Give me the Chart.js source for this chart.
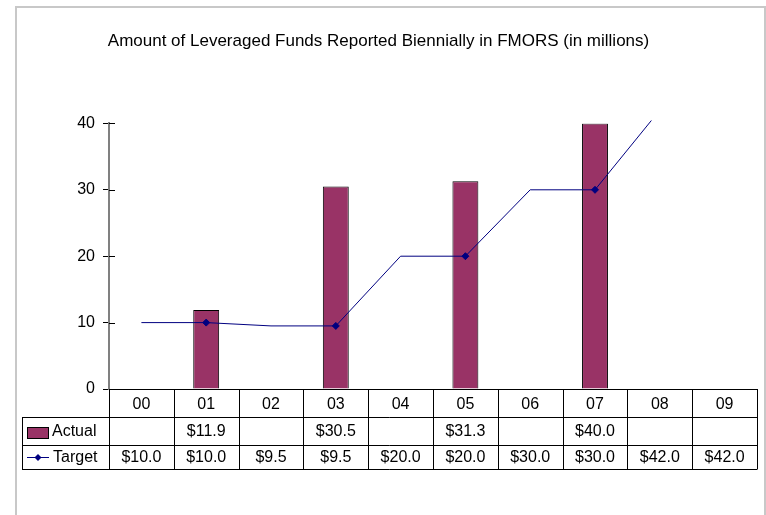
<!DOCTYPE html>
<html>
<head>
<meta charset="utf-8">
<script src="https://cdn.jsdelivr.net/npm/chart.js@4/dist/chart.umd.min.js"></script>
<style>
  body { margin: 0; background: #fff; }
  canvas { display: block; }
</style>
</head>
<body>
<canvas id="fundsChart" width="766" height="515"></canvas>
<script>
const years = ["00", "01", "02", "03", "04", "05", "06", "07", "08", "09"];
const actual = [null, 11.9, null, 30.5, null, 31.3, null, 40.0, null, null];
const target = [10.0, 10.0, 9.5, 9.5, 20.0, 20.0, 30.0, 30.0, 42.0, 42.0];
const yTicks = [0, 10, 20, 30, 40];

const FONT = "'Liberation Sans', Arial, sans-serif";
const PLUM = "#993366";
const NAVY = "#000080";

function money(v) {
  return v == null ? "" : "$" + v.toFixed(1);
}

// draws the frame, the inner tick halves and the data table under the plot
const tablePlugin = {
  id: "dataTable",
  beforeDraw(chart) {
    const ctx = chart.ctx;
    ctx.save();
    ctx.strokeStyle = "#c8c8c8";
    ctx.lineWidth = 2;
    ctx.strokeRect(16, 7, 749, 520);
    ctx.restore();
  },
  afterDraw(chart) {
    const ctx = chart.ctx;
    const x = chart.scales.x;
    const y = chart.scales.y;
    const area = chart.chartArea;
    const colW = (area.right - area.left) / years.length;
    const top = area.bottom;
    const row1 = top + 28, row2 = row1 + 28, row3 = row2 + 24;
    const legLeft = 22;

    ctx.save();
    // tick marks crossing into the plot
    ctx.strokeStyle = "#000";
    ctx.lineWidth = 1;
    yTicks.forEach(function (t) {
      const py = Math.round(y.getPixelForValue(t)) + 0.5;
      ctx.beginPath();
      ctx.moveTo(area.left, py);
      ctx.lineTo(area.left + 6, py);
      ctx.stroke();
    });

    // grid of the table
    ctx.beginPath();
    for (let i = 0; i <= years.length; i++) {
      const px = Math.round(area.left + i * colW) + 0.5;
      ctx.moveTo(px, top);
      ctx.lineTo(px, row3);
    }
    [row1, row2, row3].forEach(function (ry) {
      ctx.moveTo(legLeft, ry + 0.5);
      ctx.lineTo(area.right + 0.5, ry + 0.5);
    });
    ctx.moveTo(legLeft + 0.5, row1);
    ctx.lineTo(legLeft + 0.5, row3);
    ctx.stroke();

    // legend keys
    ctx.fillStyle = PLUM;
    ctx.fillRect(27, row1 + 10, 21, 11);
    ctx.strokeRect(27.5, row1 + 10.5, 21, 11);
    const ly = row2 + 12.5;
    ctx.strokeStyle = NAVY;
    ctx.beginPath();
    ctx.moveTo(27, ly);
    ctx.lineTo(49, ly);
    ctx.stroke();
    ctx.fillStyle = NAVY;
    ctx.beginPath();
    ctx.moveTo(38, ly - 3.5);
    ctx.lineTo(41.5, ly);
    ctx.lineTo(38, ly + 3.5);
    ctx.lineTo(34.5, ly);
    ctx.closePath();
    ctx.fill();

    ctx.fillStyle = "#000";
    ctx.font = "16px " + FONT;
    ctx.textBaseline = "middle";
    ctx.textAlign = "left";
    ctx.fillText(chart.data.datasets[0].label, 52, row1 + 15);
    ctx.fillText(chart.data.datasets[1].label, 53, row2 + 13);

    ctx.textAlign = "center";
    years.forEach(function (label, i) {
      const cx = x.getPixelForValue(i);
      ctx.fillText(money(actual[i]), cx, row1 + 15);
      ctx.fillText(money(target[i]), cx, row2 + 13);
    });
    ctx.restore();
  }
};

new Chart(document.getElementById("fundsChart"), {
  type: "bar",
  data: {
    labels: years,
    datasets: [
      {
        type: "bar",
        label: "Actual",
        data: actual,
        backgroundColor: PLUM,
        borderColor: "#000",
        borderWidth: 1,
        categoryPercentage: 1.0,
        barPercentage: 0.4,
        order: 2
      },
      {
        type: "line",
        label: "Target",
        data: target,
        borderColor: NAVY,
        borderWidth: 1,
        tension: 0,
        pointStyle: "rectRot",
        pointRadius: [0, 3.5, 0, 3.5, 0, 3.5, 0, 3.5, 0, 0],
        pointBackgroundColor: NAVY,
        pointBorderColor: NAVY,
        clip: { left: 0, top: 3, right: 0, bottom: 0 },
        order: 1
      }
    ]
  },
  options: {
    responsive: false,
    animation: false,
    layout: { padding: { left: 0, right: 9, top: 0, bottom: 0 } },
    plugins: {
      legend: { display: false },
      tooltip: { enabled: false },
      title: {
        display: true,
        text: "Amount of Leveraged Funds Reported Biennially in FMORS (in millions)",
        color: "#000",
        font: { family: FONT, size: 17, weight: "normal" },
        padding: { top: 31, bottom: 72 }
      }
    },
    scales: {
      x: {
        offset: true,
        grid: { display: false, drawTicks: false },
        border: { color: "#000", width: 1 },
        ticks: { color: "#000", font: { family: FONT, size: 16 }, padding: 6 },
        afterFit(scale) { scale.height = 126; }
      },
      y: {
        min: 0,
        max: 40,
        afterBuildTicks(scale) { scale.ticks = yTicks.map(function (v) { return { value: v }; }); },
        grid: { drawOnChartArea: false, drawTicks: true, tickLength: 6, color: "#000" },
        border: { color: "#808080", width: 2 },
        ticks: { color: "#000", font: { family: FONT, size: 16 }, padding: 8 },
        afterFit(scale) { scale.width = 109; }
      }
    }
  },
  plugins: [tablePlugin]
});
</script>
</body>
</html>
